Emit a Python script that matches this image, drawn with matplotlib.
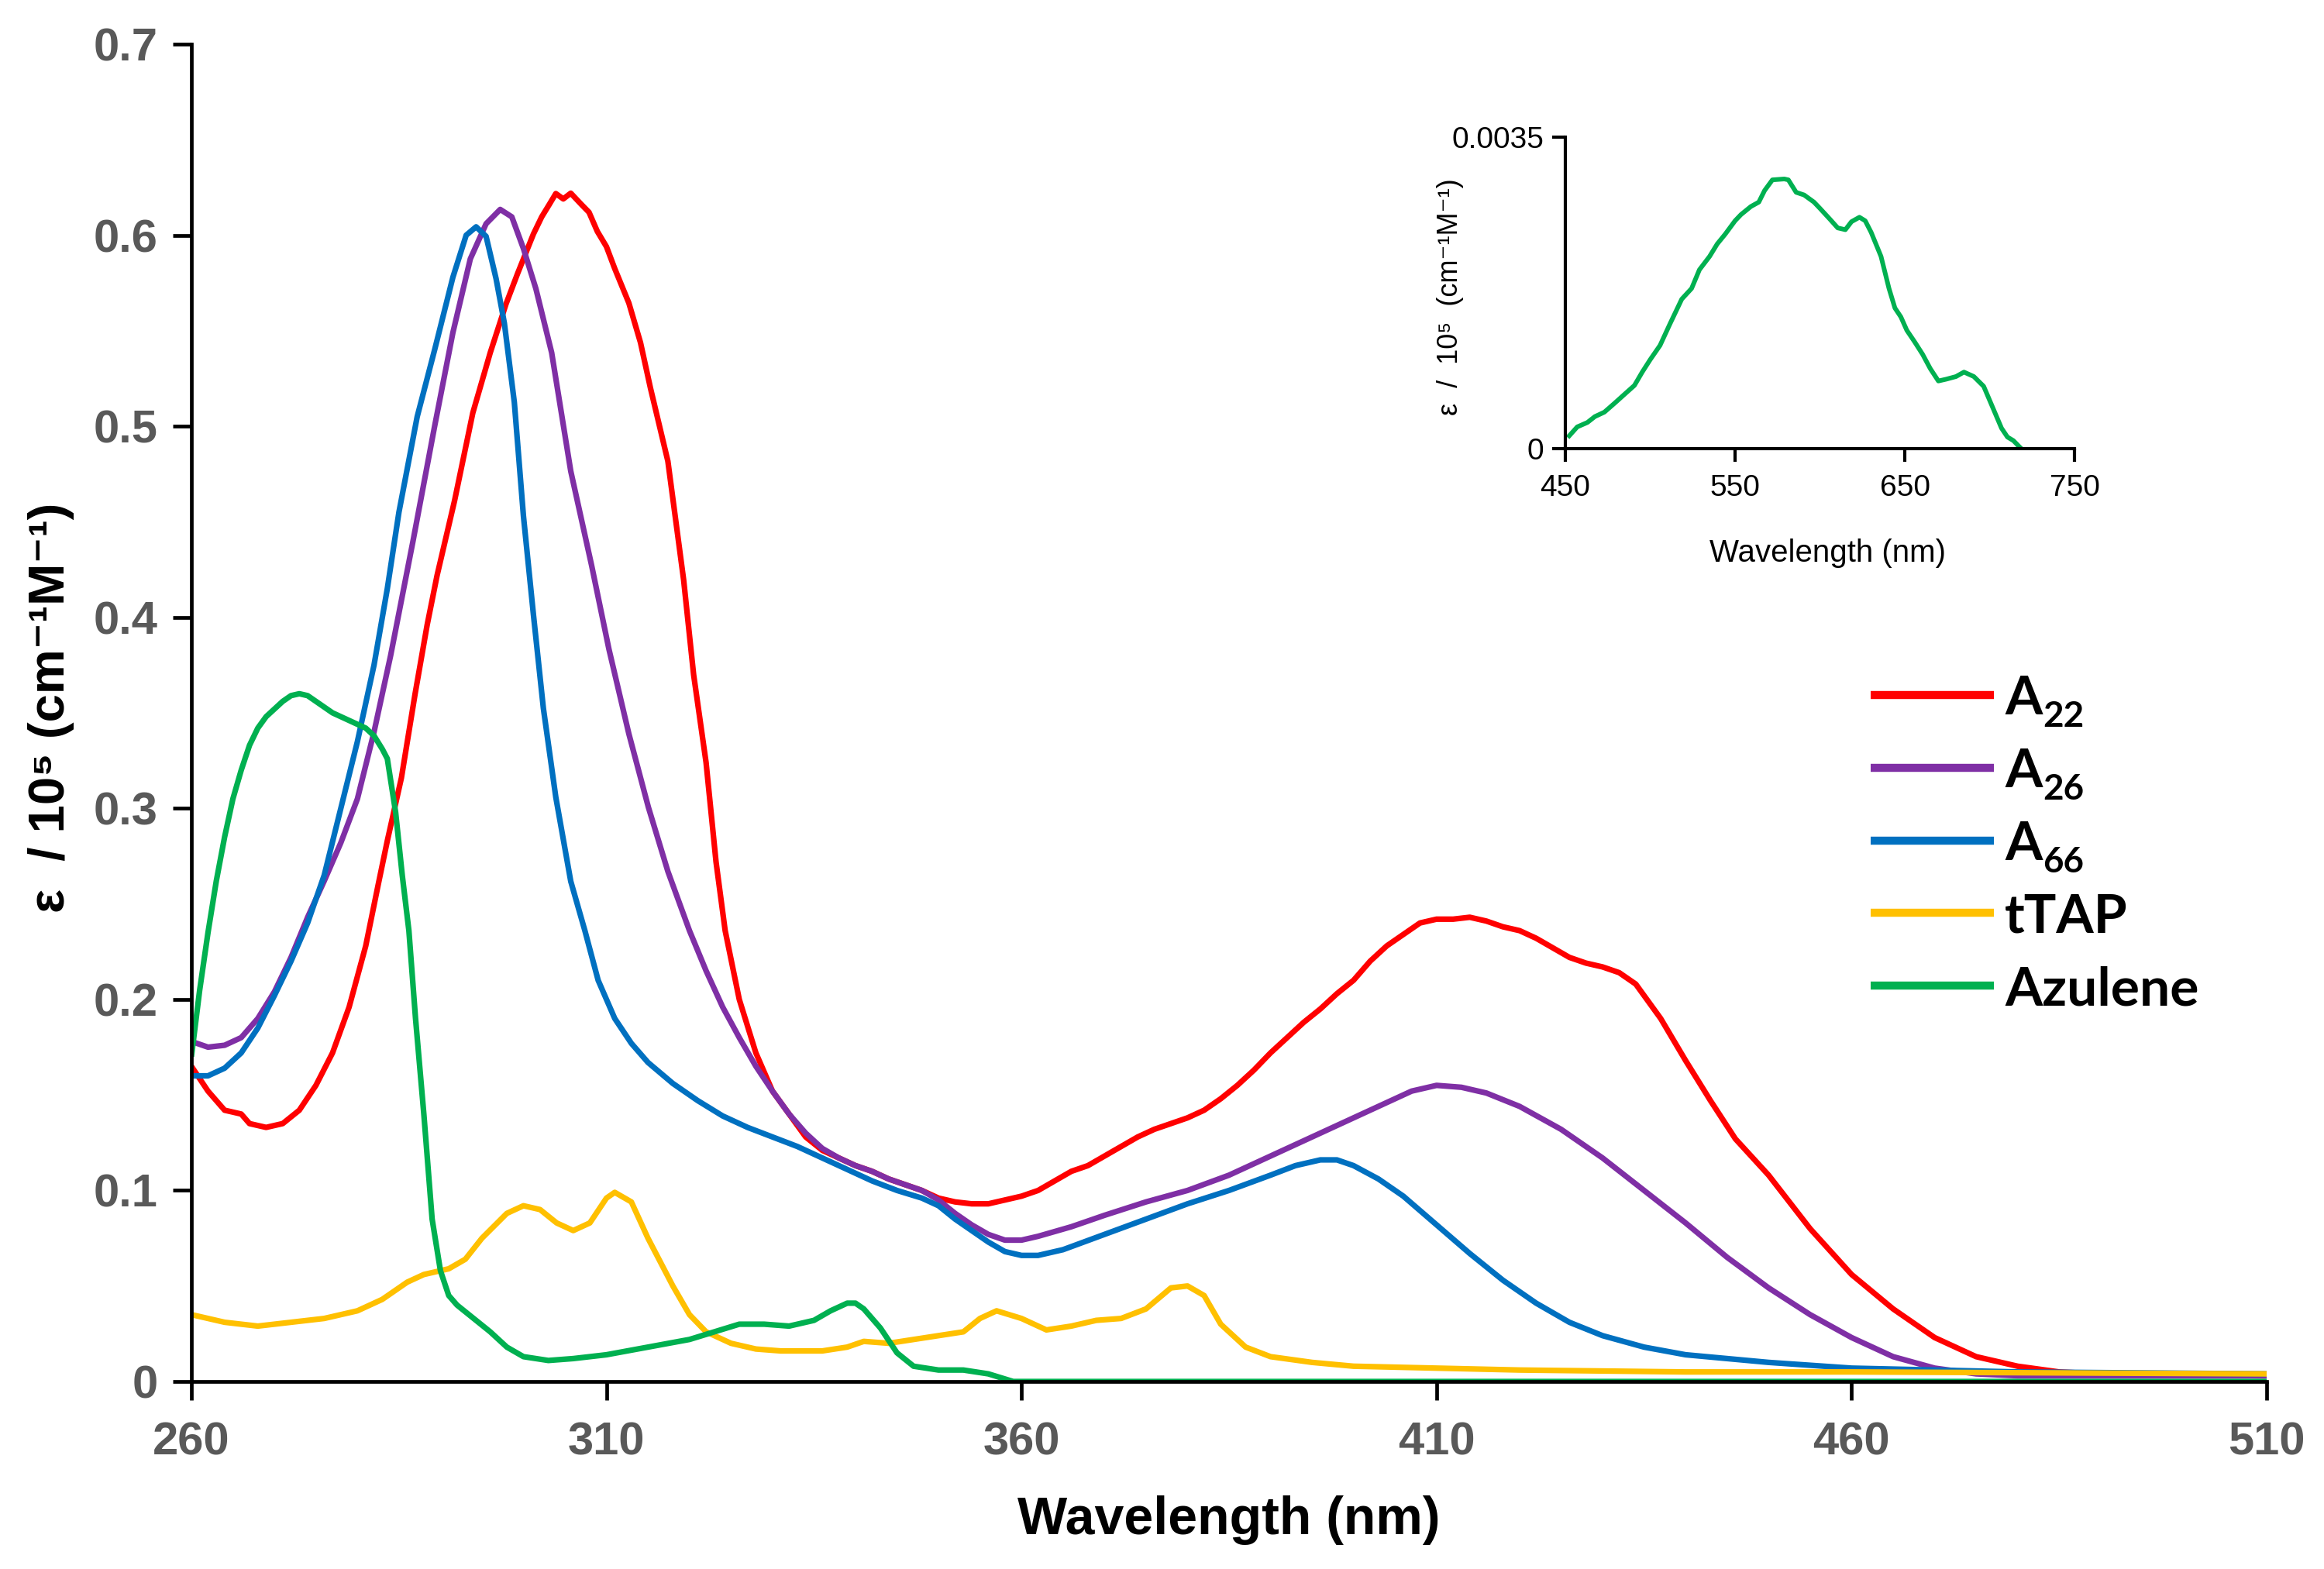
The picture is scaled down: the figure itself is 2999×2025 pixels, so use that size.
import numpy as np
import matplotlib
matplotlib.use("Agg")
import matplotlib.pyplot as plt

# ---------------- data ----------------
a22_x = [260, 262, 264, 266, 267, 269, 271, 273, 275, 277, 279, 281, 282.5, 283.6, 285.3, 286.95, 288.4, 289.6,
         291.7, 293.9, 296.0, 297.9, 299.3, 301.2, 302.2, 303.1, 303.9, 304.8, 305.7, 307.0, 307.9, 308.9, 310.0,
         311.0, 312.7, 314.1, 315.3, 317.4, 319.3, 320.5, 322.0, 323.2, 324.3, 326, 328, 330, 332, 334, 336, 338,
         340, 342, 344, 346, 348, 350, 352, 354, 356, 358, 360, 362, 364, 366, 368, 370, 372, 374, 376, 378, 380,
         382, 384, 386, 388, 390, 392, 394, 396, 398, 400, 402, 404, 406, 408, 410, 412, 414, 416, 418, 420, 422,
         424, 426, 428, 430, 432, 434, 437, 440, 443, 446, 450, 455, 460, 465, 470, 475, 480, 485, 490, 510]
a22_y = [0.165, 0.152, 0.142, 0.140, 0.135, 0.133, 0.135, 0.142, 0.155, 0.172, 0.196, 0.228, 0.260, 0.283, 0.316,
         0.360, 0.396, 0.422, 0.461, 0.507, 0.5385, 0.564, 0.580, 0.6006, 0.6096, 0.616, 0.6218, 0.619, 0.622,
         0.616, 0.612, 0.602, 0.594, 0.5825, 0.5645, 0.5438, 0.520, 0.4817, 0.4195, 0.370, 0.324, 0.272, 0.236,
         0.200, 0.172, 0.152, 0.140, 0.128, 0.121, 0.117, 0.113, 0.110, 0.106, 0.103, 0.100, 0.096, 0.094, 0.093,
         0.093, 0.095, 0.097, 0.100, 0.105, 0.110, 0.113, 0.118, 0.123, 0.128, 0.132, 0.135, 0.138, 0.142, 0.148,
         0.155, 0.163, 0.172, 0.180, 0.188, 0.195, 0.203, 0.210, 0.220, 0.228, 0.234, 0.240, 0.242, 0.242, 0.243,
         0.241, 0.238, 0.236, 0.232, 0.227, 0.222, 0.219, 0.217, 0.214, 0.208, 0.190, 0.168, 0.147, 0.127, 0.108,
         0.080, 0.056, 0.038, 0.023, 0.013, 0.008, 0.005, 0.004, 0.003]

a26_x = [260, 262, 264, 266, 268, 270, 272, 274, 276, 278, 280, 282, 284, 286.7, 289.3, 291.5, 293.6,
         295.5, 297.2, 298.6, 300.0, 301.5, 303.4, 305.7, 308.2, 310.3, 312.7, 315.05, 317.4, 320.0, 322, 324, 326,
         328, 330, 332, 334, 336, 338, 340, 342, 344, 346, 348, 350, 352, 354, 356, 358, 360, 362, 366, 370, 375,
         380, 385, 390, 395, 400, 404, 407, 410, 413, 416, 420, 425, 430, 435, 440, 445, 450, 455, 460, 465, 470,
         475, 480, 510]
a26_y = [0.178, 0.175, 0.176, 0.180, 0.190, 0.204, 0.222, 0.243, 0.262, 0.282, 0.305, 0.340, 0.380, 0.440,
         0.500, 0.549, 0.5876, 0.606, 0.6135, 0.6096, 0.593, 0.572, 0.5385, 0.4765, 0.4274, 0.3833, 0.339,
         0.3006, 0.267, 0.236, 0.215, 0.196, 0.180, 0.165, 0.152, 0.140, 0.130, 0.122, 0.117, 0.113, 0.110, 0.106,
         0.103, 0.100, 0.095, 0.088, 0.082, 0.077, 0.074, 0.074, 0.076, 0.081, 0.087, 0.094, 0.100, 0.108, 0.118,
         0.128, 0.138, 0.146, 0.152, 0.155, 0.154, 0.151, 0.144, 0.132, 0.117, 0.100, 0.083, 0.065, 0.049, 0.035,
         0.023, 0.013, 0.007, 0.004, 0.003, 0.003]

a66_x = [260, 262, 264, 266, 268, 270, 272, 274, 276, 278, 280, 282, 283.6, 285, 287.2, 289.3, 291.5, 293.1,
         294.3, 295.5, 296.7, 297.7, 298.9, 300.0, 301.2, 302.4, 303.9, 305.7, 307.4, 309, 311, 313, 315, 318, 321,
         324, 327, 330, 333, 336, 339, 342, 345, 348, 350, 352, 354, 356, 358, 360, 362, 365, 370, 375, 380, 385,
         390, 393, 396, 398, 400, 403, 406, 410, 414, 418, 422, 426, 430, 435, 440, 450, 460, 470, 480, 510]
a66_y = [0.160, 0.160, 0.164, 0.172, 0.185, 0.202, 0.220, 0.240, 0.265, 0.300, 0.335, 0.375, 0.415, 0.455,
         0.505, 0.540, 0.578, 0.600, 0.6044, 0.5994, 0.5773, 0.554, 0.5126, 0.453, 0.4015, 0.3524, 0.3058,
         0.2618, 0.236, 0.210, 0.190, 0.177, 0.167, 0.156, 0.147, 0.139, 0.133, 0.128, 0.123, 0.117, 0.111, 0.105,
         0.100, 0.096, 0.092, 0.085, 0.079, 0.073, 0.068, 0.066, 0.066, 0.069, 0.077, 0.085, 0.093, 0.100, 0.108,
         0.113, 0.116, 0.116, 0.113, 0.106, 0.097, 0.082, 0.067, 0.053, 0.041, 0.031, 0.024, 0.018, 0.014, 0.010,
         0.007, 0.006, 0.005, 0.004]

ttap_x = [260, 264, 268, 272, 276, 280, 283, 286, 288, 291, 293, 295, 298, 300, 302, 304, 306, 308, 310, 311,
          313, 315, 318, 320, 322, 325, 328, 331, 336, 339, 341, 344, 347, 350, 353, 355, 357, 360, 363, 366, 369,
          372, 375, 378, 380, 382, 384, 387, 390, 395, 400, 410, 420, 440, 460, 510]
ttap_y = [0.035, 0.031, 0.029, 0.031, 0.033, 0.037, 0.043, 0.052, 0.056, 0.059, 0.064, 0.075, 0.088, 0.092, 0.090,
          0.083, 0.079, 0.083, 0.096, 0.099, 0.094, 0.075, 0.050, 0.035, 0.026, 0.020, 0.017, 0.016, 0.016, 0.018,
          0.021, 0.020, 0.022, 0.024, 0.026, 0.033, 0.037, 0.033, 0.027, 0.029, 0.032, 0.033, 0.038, 0.049, 0.050,
          0.045, 0.030, 0.018, 0.013, 0.010, 0.008, 0.007, 0.006, 0.005, 0.005, 0.004]

azu_x = [260, 261, 262, 263, 264, 265, 266, 267, 268, 269, 270, 271, 272, 273, 274, 275, 276, 277, 278, 279, 280,
         281, 282, 283, 283.6, 284.6, 285.4, 286.2, 287, 288, 289, 290, 291, 292, 294, 296, 298, 300, 303, 306, 310,
         315, 320, 323, 326, 329, 332, 335, 337, 339, 340, 341, 343, 345, 347, 350, 353, 356, 359, 510]
azu_y = [0.170, 0.205, 0.235, 0.262, 0.285, 0.305, 0.320, 0.333, 0.342, 0.348, 0.352, 0.356, 0.359, 0.360, 0.359,
         0.356, 0.353, 0.350, 0.348, 0.346, 0.344, 0.342, 0.338, 0.331, 0.326, 0.298, 0.265, 0.236, 0.190, 0.140,
         0.085, 0.058, 0.045, 0.040, 0.033, 0.026, 0.018, 0.013, 0.011, 0.012, 0.014, 0.018, 0.022, 0.026, 0.030,
         0.030, 0.029, 0.032, 0.037, 0.041, 0.041, 0.038, 0.028, 0.015, 0.008, 0.006, 0.006, 0.004, 0.000, 0.000]

inset_x = [452.3, 457, 463, 467.4, 473, 479, 486, 490.7, 495.3, 500, 505.8, 511.6, 518.6, 524.4, 529, 535, 539.5,
           544.2, 550, 553.5, 559.3, 564, 567.4, 572, 579, 581.4, 586, 590.7, 596.5, 600, 605.8, 610.5, 615, 618.6,
           623.3, 626.7, 630.2, 636, 640.7, 644.2, 647.7, 651.2, 655.8, 660.5, 665, 669.8, 674.4, 680.2, 684.9,
           690.7, 696.5, 701.2, 707, 710.5, 714, 718.6]
inset_y = [0.000144, 0.000244, 0.000294, 0.00036, 0.00041, 0.00051, 0.00063, 0.00071, 0.00086, 0.0010, 0.00116,
           0.0014, 0.00168, 0.0018, 0.00201, 0.00216, 0.0023, 0.00241, 0.00256, 0.00263, 0.00272, 0.00277, 0.0029,
           0.00302, 0.00303, 0.00302, 0.00288, 0.00285, 0.00277, 0.0027, 0.00258, 0.00248, 0.00246, 0.00255, 0.0026,
           0.00256, 0.00243, 0.00216, 0.0018, 0.00158, 0.00148, 0.00133, 0.0012, 0.00106, 0.0009, 0.00076, 0.00078,
           0.00081, 0.00086, 0.00081, 0.0007, 0.00049, 0.00023, 0.00013, 0.00009, 0.0]

series_names = ["A22", "A26", "A66", "tTAP", "Azulene"]
series_colors = ["#FF0000", "#7F2FA5", "#0070C0", "#FFC000", "#00B050"]

main_xticks = [260, 310, 360, 410, 460, 510]
main_yticks = [0, 0.1, 0.2, 0.3, 0.4, 0.5, 0.6, 0.7]
main_yticklabels = ["0", "0.1", "0.2", "0.3", "0.4", "0.5", "0.6", "0.7"]
inset_xticks = [450, 550, 650, 750]
inset_yticks = [0, 0.0035]
inset_yticklabels = ["0", "0.0035"]

# ---------------- figure ----------------
W, H = 2999, 2025
DPI = 100
fig = plt.figure(figsize=(W / DPI, H / DPI), dpi=DPI)
fig.patch.set_facecolor("white")

def fx(px):
    return px / W

def fy(py):
    return 1 - py / H

ax = fig.add_axes([fx(247), fy(1783), (2925 - 247) / W, (1783 - 57) / H])
lw = 5.2
data = [(a22_x, a22_y), (a26_x, a26_y), (a66_x, a66_y), (ttap_x, ttap_y), (azu_x, azu_y)]
for i in range(len(data)):
    x, y = data[i]
    ax.plot(x, y, color=series_colors[i], lw=lw, solid_joinstyle="round", solid_capstyle="butt", zorder=3 + i)

ax.set_xlim(260, 510)
ax.set_ylim(0, 0.7)
for s in ["top", "right"]:
    ax.spines[s].set_visible(False)
for s in ["left", "bottom"]:
    ax.spines[s].set_linewidth(3.4)
    ax.spines[s].set_color("black")
    ax.spines[s].set_zorder(10)
ax.set_xticks(main_xticks)
ax.set_yticks(main_yticks)
ax.set_yticklabels(main_yticklabels)
ax.tick_params(axis="both", direction="out", length=17, width=3.4, color="black",
               labelsize=43, labelcolor="#595959")
ax.tick_params(axis="x", pad=20)
ax.tick_params(axis="y", pad=14)
for lab in ax.get_xticklabels() + ax.get_yticklabels():
    lab.set_fontfamily(["Liberation Sans", "DejaVu Sans"])
    lab.set_fontweight("bold")

fig.text(fx(1586), fy(1962), "Wavelength (nm)", ha="center", va="center",
         fontsize=49, fontweight="bold", family=["Liberation Sans", "DejaVu Sans"], color="black")
fig.text(fx(66), fy(913), "ε  / 10⁵ (cm⁻¹M⁻¹)", ha="center", va="center", rotation=90,
         fontsize=47, fontweight="bold", family=["Liberation Sans", "DejaVu Sans"], color="black")

# ---------------- legend (drawn manually) ----------------
leg_y = [897, 991, 1085, 1178, 1272]
for i, name in enumerate(series_names):
    yy = fy(leg_y[i])
    fig.add_artist(plt.Line2D([fx(2414), fx(2573)], [yy, yy], color=series_colors[i], lw=7.5,
                              solid_capstyle="butt"))
    if name.startswith("A") and name[1:].isdigit():
        fig.text(fx(2587), fy(leg_y[i] + 25), "A", ha="left", va="baseline", fontsize=50,
                 fontweight="bold", family=["Lato", "DejaVu Sans"], color="black")
        fig.text(fx(2636), fy(leg_y[i] + 41), name[1:], ha="left", va="baseline", fontsize=33,
                 fontweight="bold", family=["Lato", "DejaVu Sans"], color="black")
    else:
        fig.text(fx(2587), fy(leg_y[i] + 25), name, ha="left", va="baseline", fontsize=50,
                 fontweight="bold", family=["Lato", "DejaVu Sans"], color="black")

# ---------------- inset ----------------
ins = fig.add_axes([fx(2020), fy(579), 657 / W, 402 / H])
ins.plot(inset_x, inset_y, color="#00B050", lw=4.3, solid_joinstyle="round")
ins.set_xlim(450, 750)
ins.set_ylim(0, 0.0035)
for s in ["top", "right"]:
    ins.spines[s].set_visible(False)
for s in ["left", "bottom"]:
    ins.spines[s].set_linewidth(3.0)
ins.set_xticks(inset_xticks)
ins.set_yticks(inset_yticks)
ins.set_yticklabels(inset_yticklabels)
ins.tick_params(axis="both", direction="out", length=12, width=3.0, labelsize=28, labelcolor="black")
ins.tick_params(axis="x", pad=12)
ins.tick_params(axis="y", pad=8)
for lab in ins.get_xticklabels() + ins.get_yticklabels():
    lab.set_fontfamily(["Liberation Sans", "DejaVu Sans"])
fig.text(fx(2358), fy(714), "Wavelength (nm)", ha="center", va="center",
         fontsize=29, family=["Liberation Sans", "DejaVu Sans"], color="black")
fig.text(fx(1871), fy(383), "ε  /  10⁵  (cm⁻¹M⁻¹)", ha="center", va="center", rotation=90,
         fontsize=26, family=["Liberation Sans", "DejaVu Sans"], color="black")

fig.savefig("out.png", dpi=DPI, facecolor="white")
